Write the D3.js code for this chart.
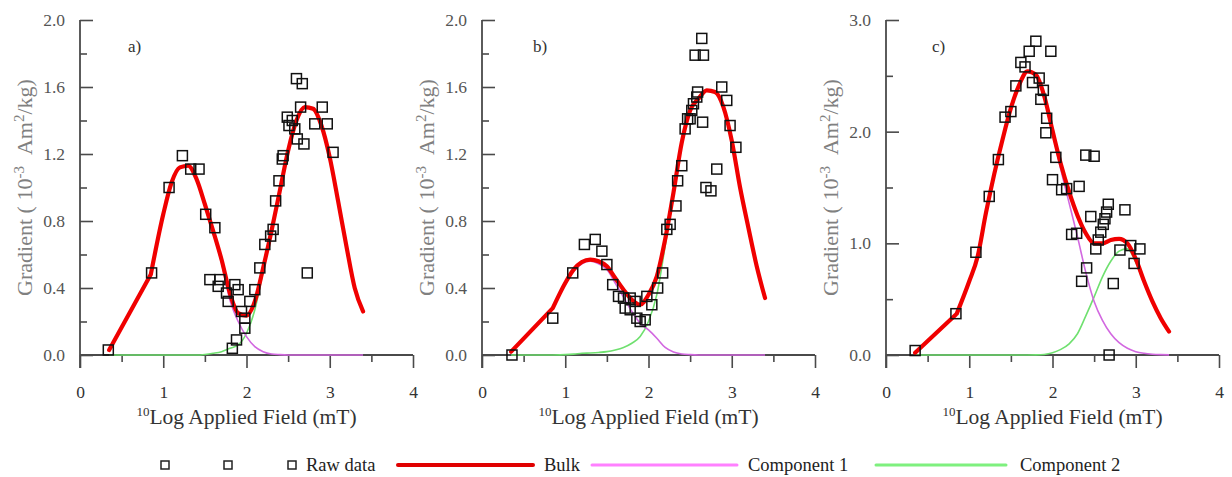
<!DOCTYPE html>
<html>
<head>
<meta charset="utf-8">
<script src="https://cdn.jsdelivr.net/npm/d3@7"></script>
<style>
  body { margin: 0; background: #fff; }
</style>
</head>
<body>
<div id="chart"></div>
<script>
"use strict";

// x grid the fitted curves were read on (10log mT)
var fitX = [0.35, 0.85, 1.0, 1.1, 1.2, 1.3, 1.4, 1.5, 1.6, 1.7, 1.8, 1.9, 2.0, 2.1, 2.2,
            2.3, 2.4, 2.5, 2.6, 2.7, 2.8, 2.9, 3.0, 3.1, 3.2, 3.3, 3.4];

// panel a
var rawAx = [0.34, 0.86, 1.07, 1.23, 1.33, 1.43, 1.51, 1.62, 1.56, 1.68, 1.66, 1.76, 1.86, 1.90, 1.78,
             1.94, 1.98, 1.98, 1.88, 1.83, 2.04, 2.10, 2.16, 2.22, 2.29, 2.32, 2.35, 2.39, 2.43, 2.44,
             2.49, 2.51, 2.55, 2.58, 2.61, 2.69, 2.60, 2.67, 2.65, 2.73, 2.82, 2.91, 2.97, 3.04];
var rawAy = [0.03, 0.49, 1.00, 1.19, 1.11, 1.11, 0.84, 0.76, 0.45, 0.45, 0.41, 0.37, 0.42, 0.39, 0.32,
             0.26, 0.22, 0.16, 0.09, 0.04, 0.32, 0.39, 0.52, 0.66, 0.71, 0.75, 0.92, 1.04, 1.17, 1.19,
             1.42, 1.37, 1.40, 1.35, 1.29, 1.26, 1.65, 1.62, 1.48, 0.49, 1.38, 1.48, 1.38, 1.21];
var bulkA  = [0.03, 0.48, 0.84, 1.03, 1.12, 1.13, 1.05, 0.90, 0.74, 0.57, 0.37, 0.25, 0.235, 0.32, 0.52,
              0.74, 0.98, 1.22, 1.40, 1.48, 1.47, 1.37, 1.18, 0.92, 0.65, 0.40, 0.26];
var comp1A = [0.03, 0.48, 0.84, 1.03, 1.12, 1.13, 1.05, 0.90, 0.73, 0.55, 0.33, 0.20, 0.11, 0.05, 0.02,
              0.006, 0.002, 0, 0, 0, 0, 0, 0, 0, 0, 0, 0];
var comp2A = [0, 0, 0, 0, 0, 0, 0, 0.003, 0.01, 0.02, 0.04, 0.06, 0.13, 0.27, 0.50,
              0.73, 0.98, 1.22, 1.40, 1.48, 1.47, 1.37, 1.18, 0.92, 0.65, 0.40, 0.26];

// panel b
var rawBx = [0.36, 0.85, 1.09, 1.23, 1.36, 1.44, 1.50, 1.57, 1.64, 1.70, 1.78, 1.72, 1.78, 1.84, 1.86,
             1.90, 1.96, 1.98, 2.04, 2.11, 2.17, 2.22, 2.26, 2.33, 2.35, 2.40, 2.44, 2.47, 2.50, 2.52,
             2.54, 2.58, 2.59, 2.56, 2.66, 2.64, 2.65, 2.69, 2.75, 2.82, 2.88, 2.94, 2.98, 3.05];
var rawBy = [0.00, 0.22, 0.49, 0.66, 0.69, 0.62, 0.54, 0.42, 0.35, 0.34, 0.34, 0.28, 0.27, 0.32, 0.22,
             0.20, 0.21, 0.35, 0.30, 0.40, 0.49, 0.75, 0.78, 0.89, 1.04, 1.13, 1.35, 1.41, 1.41, 1.46,
             1.50, 1.54, 1.57, 1.79, 1.79, 1.89, 1.39, 1.00, 0.98, 1.11, 1.60, 1.52, 1.37, 1.24];
var bulkB  = [0.02, 0.28, 0.43, 0.51, 0.555, 0.57, 0.56, 0.53, 0.46, 0.39, 0.33, 0.30, 0.36, 0.47, 0.69,
              0.97, 1.27, 1.46, 1.53, 1.58, 1.57, 1.48, 1.28, 1.00, 0.76, 0.53, 0.34];
var comp1B = [0.02, 0.28, 0.43, 0.50, 0.545, 0.56, 0.545, 0.51, 0.43, 0.345, 0.26, 0.19, 0.15, 0.10, 0.045,
              0.018, 0.006, 0.002, 0, 0, 0, 0, 0, 0, 0, 0, 0];
var comp2B = [0, 0, 0.002, 0.005, 0.01, 0.012, 0.015, 0.02, 0.03, 0.045, 0.07, 0.11, 0.20, 0.36, 0.65,
              0.95, 1.26, 1.46, 1.53, 1.58, 1.57, 1.48, 1.28, 1.00, 0.76, 0.53, 0.34];

// panel c
var rawCx = [0.35, 0.84, 1.08, 1.24, 1.35, 1.43, 1.50, 1.56, 1.62, 1.67, 1.72, 1.80, 1.76, 1.84, 1.89,
             1.86, 1.98, 1.93, 1.92, 2.04, 2.00, 2.11, 2.17, 2.32, 2.40, 2.50, 2.23, 2.29, 2.46, 2.41,
             2.35, 2.52, 2.55, 2.58, 2.61, 2.63, 2.65, 2.67, 2.68, 2.73, 2.81, 2.87, 2.94, 2.98, 3.05];
var rawCy = [0.04, 0.37, 0.92, 1.42, 1.75, 2.13, 2.18, 2.41, 2.62, 2.58, 2.72, 2.81, 2.44, 2.48, 2.37,
             2.29, 2.72, 2.12, 1.99, 1.77, 1.57, 1.48, 1.49, 1.51, 1.79, 1.78, 1.08, 1.09, 1.24, 0.78,
             0.66, 0.95, 1.03, 1.10, 1.17, 1.22, 1.28, 1.35, 0.00, 0.64, 0.94, 1.30, 0.98, 0.82, 0.95];
var bulkC  = [0.02, 0.37, 0.66, 0.88, 1.27, 1.62, 1.93, 2.21, 2.42, 2.54, 2.51, 2.32, 2.01, 1.71, 1.46,
              1.25, 1.09, 1.00, 1.00, 1.03, 1.04, 1.00, 0.86, 0.66, 0.48, 0.33, 0.21];
var comp1C = [0.02, 0.37, 0.66, 0.88, 1.27, 1.62, 1.93, 2.21, 2.42, 2.54, 2.51, 2.315, 1.99, 1.66, 1.36,
              1.06, 0.74, 0.48, 0.31, 0.19, 0.11, 0.06, 0.03, 0.015, 0.007, 0.003, 0.001];
var comp2C = [0, 0, 0, 0, 0, 0, 0, 0, 0, 0, 0.001, 0.005, 0.02, 0.05, 0.10,
              0.19, 0.35, 0.52, 0.70, 0.84, 0.93, 0.95, 0.83, 0.645, 0.47, 0.325, 0.21];

// axes
var xTicks = [0, 1, 2, 3, 4];
var xMinor = [0.5, 1.5, 2.5, 3.5];
var yTicksAB = [0, 0.4, 0.8, 1.2, 1.6, 2.0];
var yMinorAB = [0.2, 0.6, 1.0, 1.4, 1.8];
var yTicksC = [0, 1, 2, 3];
var yMinorC = [0.5, 1.5, 2.5];
var panelLabels = ["a)", "b)", "c)"];
var legendLabels = ["Raw data", "Bulk", "Component 1", "Component 2"];

var width = 1232, height = 477;
var top0 = 20, bottom0 = 355, plotW = 333;
var serif = "'Liberation Serif', 'Times New Roman', Times, serif";

var svg = d3.select("#chart")
  .append("svg")
  .attr("width", width)
  .attr("height", height)
  .style("font-family", serif);

var panels = [
  { left: 80,  yMax: 2.0, yTicks: yTicksAB, yMinor: yMinorAB, rx: rawAx, ry: rawAy, bulk: bulkA, c1: comp1A, c2: comp2A, label: panelLabels[0], lx: 128, ly: 52 },
  { left: 482, yMax: 2.0, yTicks: yTicksAB, yMinor: yMinorAB, rx: rawBx, ry: rawBy, bulk: bulkB, c1: comp1B, c2: comp2B, label: panelLabels[1], lx: 533, ly: 52 },
  { left: 886, yMax: 3.0, yTicks: yTicksC,  yMinor: yMinorC,  rx: rawCx, ry: rawCy, bulk: bulkC, c1: comp1C, c2: comp2C, label: panelLabels[2], lx: 932, ly: 52 }
];

var axisCol = "#4a4a4a";

panels.forEach(function(p) {
  var x = d3.scaleLinear().domain([0, 4]).range([p.left, p.left + plotW]);
  var y = d3.scaleLinear().domain([0, p.yMax]).range([bottom0, top0]);
  var g = svg.append("g");

  // y axis, ticks pointing in
  var ya = g.append("g").attr("transform", "translate(" + p.left + ",0)")
    .call(d3.axisLeft(y).tickValues(p.yTicks).tickSizeInner(-13).tickSizeOuter(0).tickPadding(15)
      .tickFormat(d3.format(".1f")));
  ya.attr("font-family", null);
  ya.select(".domain").remove();
  ya.selectAll("line").attr("stroke", axisCol).attr("stroke-width", 1.6);
  ya.selectAll("text").attr("fill", "#555").style("font-size", "17.5px").style("font-family", serif);

  var ym = g.append("g").attr("transform", "translate(" + p.left + ",0)")
    .call(d3.axisLeft(y).tickValues(p.yMinor).tickSize(-7).tickFormat(""));
  ym.select(".domain").remove();
  ym.selectAll("line").attr("stroke", axisCol).attr("stroke-width", 1.6);

  // x axis, ticks pointing out
  var xa = g.append("g").attr("transform", "translate(0," + bottom0 + ")")
    .call(d3.axisBottom(x).tickValues(xTicks).tickSize(13).tickPadding(18).tickFormat(d3.format("d")));
  xa.attr("font-family", null);
  xa.select(".domain").remove();
  xa.selectAll("line").attr("stroke", axisCol).attr("stroke-width", 1.6);
  xa.selectAll("text").attr("fill", "#333").style("font-size", "17.5px").style("font-family", serif);

  var xm = g.append("g").attr("transform", "translate(0," + bottom0 + ")")
    .call(d3.axisBottom(x).tickValues(xMinor).tickSize(7).tickFormat(""));
  xm.select(".domain").remove();
  xm.selectAll("line").attr("stroke", axisCol).attr("stroke-width", 1.6);

  // axis lines (y line runs a bit below the x axis)
  g.append("line").attr("x1", p.left).attr("x2", p.left).attr("y1", top0).attr("y2", bottom0 + 13)
    .attr("stroke", axisCol).attr("stroke-width", 1.8);
  g.append("line").attr("x1", p.left).attr("x2", p.left + plotW).attr("y1", bottom0).attr("y2", bottom0)
    .attr("stroke", axisCol).attr("stroke-width", 1.8);

  // y title
  var yt = g.append("text")
    .attr("transform", "translate(" + (p.left - 48) + "," + ((top0 + bottom0) / 2) + ") rotate(-90)")
    .attr("text-anchor", "middle")
    .attr("fill", "#808080")
    .style("font-size", "22px").style("font-family", serif);
  yt.append("tspan").text("Gradient (\u00a010");
  yt.append("tspan").attr("dy", -8).style("font-size", "15px").text("-3");
  yt.append("tspan").attr("dy", 8).text("\u00a0\u00a0Am");
  yt.append("tspan").attr("dy", -8).style("font-size", "15px").text("2");
  yt.append("tspan").attr("dy", 8).text("/kg)");

  // x title
  var xt = g.append("text")
    .attr("x", p.left + plotW / 2)
    .attr("y", 424)
    .attr("text-anchor", "middle")
    .attr("fill", "#333")
    .style("font-size", "21.5px").style("font-family", serif);
  xt.append("tspan").attr("dy", -8).style("font-size", "13px").text("10");
  xt.append("tspan").attr("dy", 8).text("Log Applied Field (mT)");

  // panel label
  g.append("text").attr("x", p.lx).attr("y", p.ly).attr("fill", "#333")
    .style("font-size", "17px").style("font-family", serif).text(p.label);

  // fitted curves: straight first step, smooth after it
  var pts = function(arr) { return fitX.map(function(v, i) { return [v, arr[i]]; }); };
  var straight = d3.line().x(function(d) { return x(d[0]); }).y(function(d) { return y(d[1]); });
  var smooth = d3.line().x(function(d) { return x(d[0]); }).y(function(d) { return y(d[1]); })
    .curve(d3.curveMonotoneX);
  var curvePath = function(arr) {
    var d = pts(arr);
    return straight(d.slice(0, 2)) + smooth(d.slice(1));
  };

  g.append("path").attr("d", curvePath(p.c2))
    .attr("fill", "none").attr("stroke", "#6fe06f").attr("stroke-width", 1.6);
  g.append("path").attr("d", curvePath(p.c1))
    .attr("fill", "none").attr("stroke", "#d268e0").attr("stroke-width", 1.6);
  g.append("path").attr("d", curvePath(p.bulk))
    .attr("fill", "none").attr("stroke", "#f00000").attr("stroke-width", 4.2)
    .attr("stroke-linecap", "round").attr("stroke-linejoin", "round");

  // raw data squares
  g.selectAll(".raw")
    .data(p.rx.map(function(v, i) { return [v, p.ry[i]]; }))
    .enter().append("rect")
    .attr("class", "raw")
    .attr("x", function(d) { return x(d[0]) - 5; })
    .attr("y", function(d) { return y(d[1]) - 5; })
    .attr("width", 10).attr("height", 10)
    .attr("fill", "none").attr("stroke", "#111").attr("stroke-width", 1.5);
});

// legend
var leg = svg.append("g").attr("transform", "translate(0,465)");
[165, 228, 292].forEach(function(cx) {
  leg.append("rect").attr("x", cx - 4).attr("y", -4).attr("width", 8).attr("height", 8)
    .attr("fill", "none").attr("stroke", "#222").attr("stroke-width", 1.5);
});
var legItems = [
  { x1: null, x2: null, col: null, w: 0, tx: 306, label: legendLabels[0] },
  { x1: 398, x2: 533, col: "#e00000", w: 4, tx: 544, label: legendLabels[1] },
  { x1: 592, x2: 737, col: "#ff80ff", w: 3, tx: 748, label: legendLabels[2] },
  { x1: 876, x2: 1006, col: "#7ef07e", w: 3, tx: 1020, label: legendLabels[3] }
];
legItems.forEach(function(it) {
  if (it.col) {
    leg.append("line").attr("x1", it.x1).attr("x2", it.x2).attr("y1", 0).attr("y2", 0)
      .attr("stroke", it.col).attr("stroke-width", it.w).attr("stroke-linecap", "round");
  }
  leg.append("text").attr("x", it.tx).attr("y", 6).attr("fill", "#222")
    .style("font-size", "18.5px").style("font-family", serif)
    .text(it.label);
});
</script>
</body>
</html>
